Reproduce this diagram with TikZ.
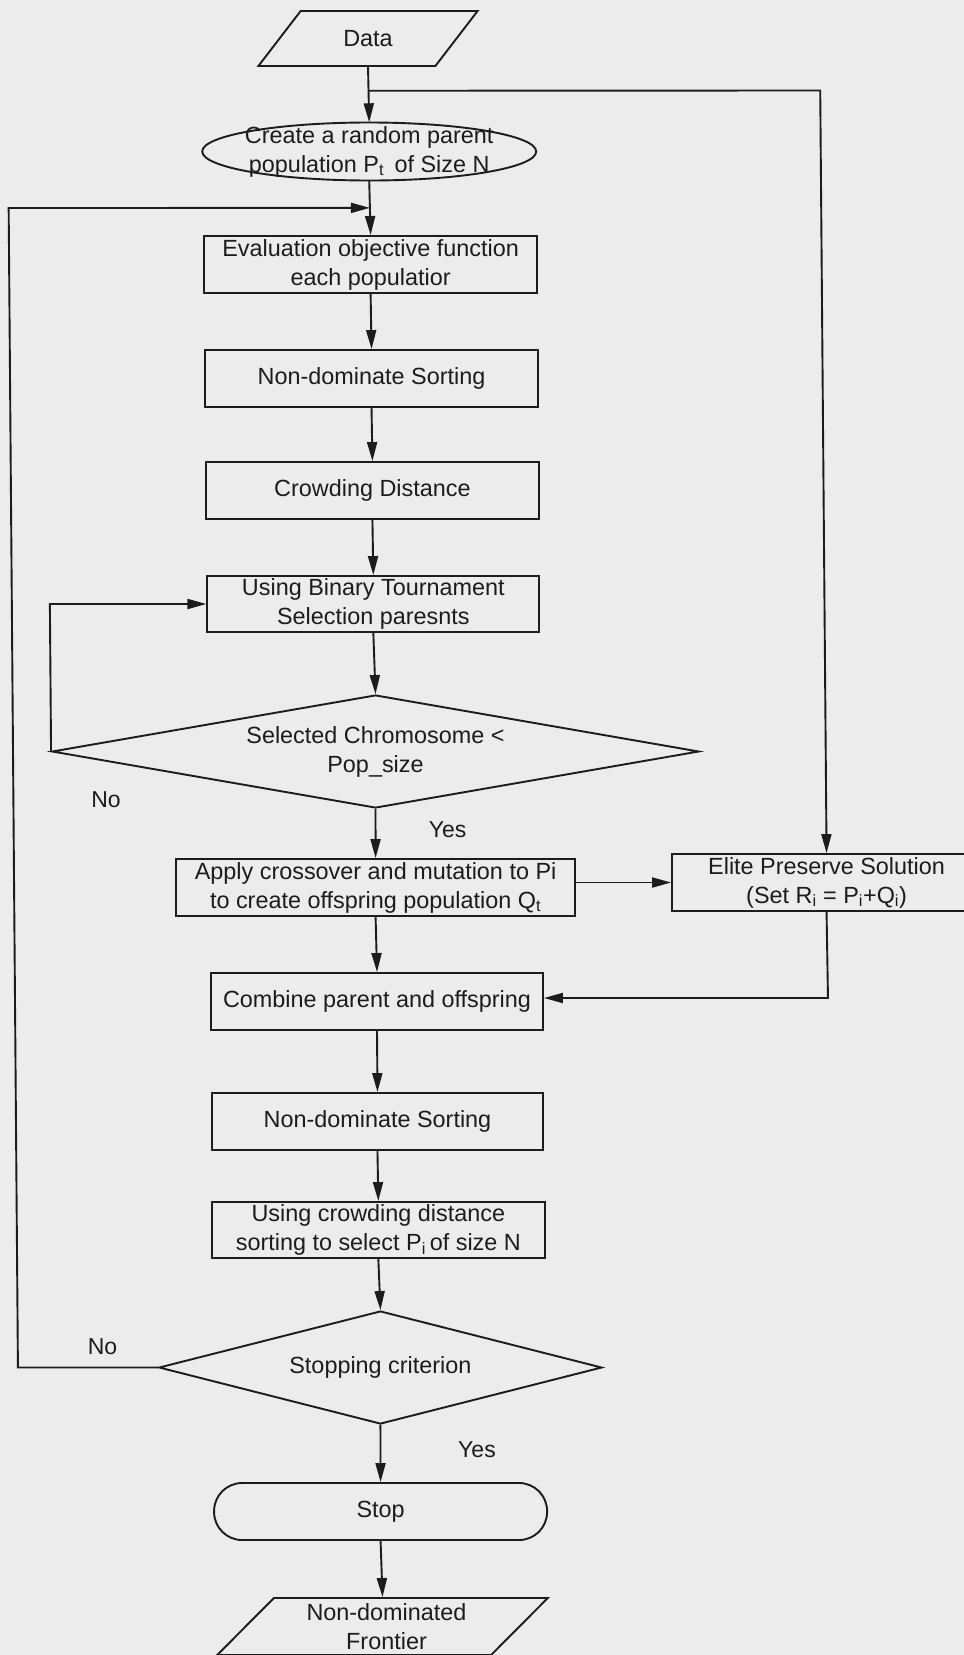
\documentclass[tikz,border=0pt]{standalone}
\usepackage{fontspec}
\setmainfont{Liberation Sans}
\usetikzlibrary{shapes.geometric,arrows.meta,calc}
\definecolor{paper}{RGB}{236,236,236}
\definecolor{ink}{RGB}{28,28,28}
\begin{document}
\begin{tikzpicture}[x=1pt,y=-1pt,
  every node/.style={font=\fontsize{23.4}{29}\selectfont, text=ink, inner sep=0pt, align=center},
  line/.style={draw=ink, line width=1.9pt},
  arr/.style={line, -{Triangle[length=19pt,width=10pt]}},
  proc/.style={draw=ink, line width=1.9pt, rectangle, minimum height=57pt},
  io/.style={draw=ink, line width=1.9pt, trapezium, trapezium left angle=46.5,
             trapezium right angle=133.5, trapezium stretches=true},
  decision/.style={draw=ink, line width=1.9pt, diamond, minimum height=113pt},
  term/.style={draw=ink, line width=1.9pt, rectangle, rounded corners=28pt,
               minimum width=333pt, minimum height=57pt},
  lbl/.style={font=\fontsize{23}{28}\selectfont}]

\useasboundingbox (0,0) rectangle (964,1655);
\fill[paper] (0,0) rectangle (964,1655);

\begin{scope}[xslant=-0.008]
  % main column
  \node[io, minimum width=220pt, minimum height=55pt] (data) at (367.7,38.5) {Data};
  \node[minimum width=334pt, minimum height=58pt] (create) at (368,151.5)
       {Create a random parent\\population P\textsubscript{t}\, of Size N};
  \draw[line] (create.center) ellipse [x radius=167pt, y radius=29pt];
  \node[proc, minimum width=333pt] (eval) at (368.5,264.5)
       {Evaluation objective function\\each populatior};
  \node[proc, minimum width=333pt] (nds1) at (368.5,378.5) {Non-dominate Sorting};
  \node[proc, minimum width=333pt] (crowd) at (368.5,490.5) {Crowding Distance};
  \node[proc, minimum width=332pt, minimum height=56pt] (binary) at (368.5,604)
       {Using Binary Tournament\\Selection paresnts};
  \node[decision, minimum width=647pt, aspect=5.7] (d1) at (369.5,751.5)
       {Selected Chromosome <\\Pop\_size};
  \node[proc, minimum width=399pt] (apply) at (368.5,887.5)
       {Apply crossover and mutation to Pi\\to create offspring population Q\textsubscript{t}};
  \node[proc, minimum width=309pt] (elite) at (819.5,882.5)
       {Elite Preserve Solution\\(Set R\textsubscript{i} = P\textsubscript{i}+Q\textsubscript{i})};
  \node[proc, minimum width=332pt] (combine) at (369,1001.5) {Combine parent and offspring};
  \node[proc, minimum width=331pt] (nds2) at (368.5,1121.5) {Non-dominate Sorting};
  \node[proc, minimum width=333pt, minimum height=56pt] (csort) at (368.5,1230)
       {Using crowding distance\\sorting to select P\textsubscript{i}\,of size N};
  \node[decision, minimum width=443pt, aspect=3.9] (d2) at (369.5,1367.5) {Stopping criterion};
  \node[term] (stop) at (368.5,1511.5) {Stop};
  \node[io, minimum width=331pt, minimum height=57pt] (front) at (369.5,1626.5)
       {\hspace*{8pt}Non-dominated\\\hspace*{8pt}Frontier};

  % branch and loop corner points
  \coordinate (br)   at ($(data.south)!0.43!(create.north)$);
  \coordinate (brR)  at (819.5,90.5);
  \coordinate (join) at ($(create.south)!0.5!(eval.north)$);
  \coordinate (fbT)  at (7,208);
  \coordinate (fbB)  at (7,1367.5);
  \coordinate (elC)  at (820,998);

  % connectors along the main column
  \draw[arr] (data.south) -- (create.north);
  \draw[arr] (create.south) -- (eval.north);
  \draw[arr] (eval.south) -- (nds1.north);
  \draw[arr] (nds1.south) -- (crowd.north);
  \draw[arr] (crowd.south) -- (binary.north);
  \draw[arr] (binary.south) -- (d1.north);
  \draw[arr] (d1.south) -- (apply.north);
  \draw[arr] (apply.south) -- (combine.north);
  \draw[arr] (combine.south) -- (nds2.north);
  \draw[arr] (nds2.south) -- (csort.north);
  \draw[arr] (csort.south) -- (d2.north);
  \draw[arr] (d2.south) -- (stop.north);
  \draw[arr] (stop.south) -- (front.north);

  % side paths
  \draw[arr] (br) -- (brR) -- (elite.north);
  \draw[arr] (apply.east |- elite.west) -- (elite.west);
  \draw[arr] (elite.south) -- (elC) -- (elC -| combine.east);
  \draw[arr] (d1.west) |- (binary.west);
  \draw[arr] (d2.west) -- (fbB) -- (fbT) -- (join);

  % branch labels
  \node[lbl] (no1)  at (99.6,800) {No};
  \node[lbl] (yes1) at (441,830) {Yes};
  \node[lbl] (no2)  at (91.7,1347) {No};
  \node[lbl] (yes2) at (465.4,1450) {Yes};
\end{scope}
\end{tikzpicture}
\end{document}
